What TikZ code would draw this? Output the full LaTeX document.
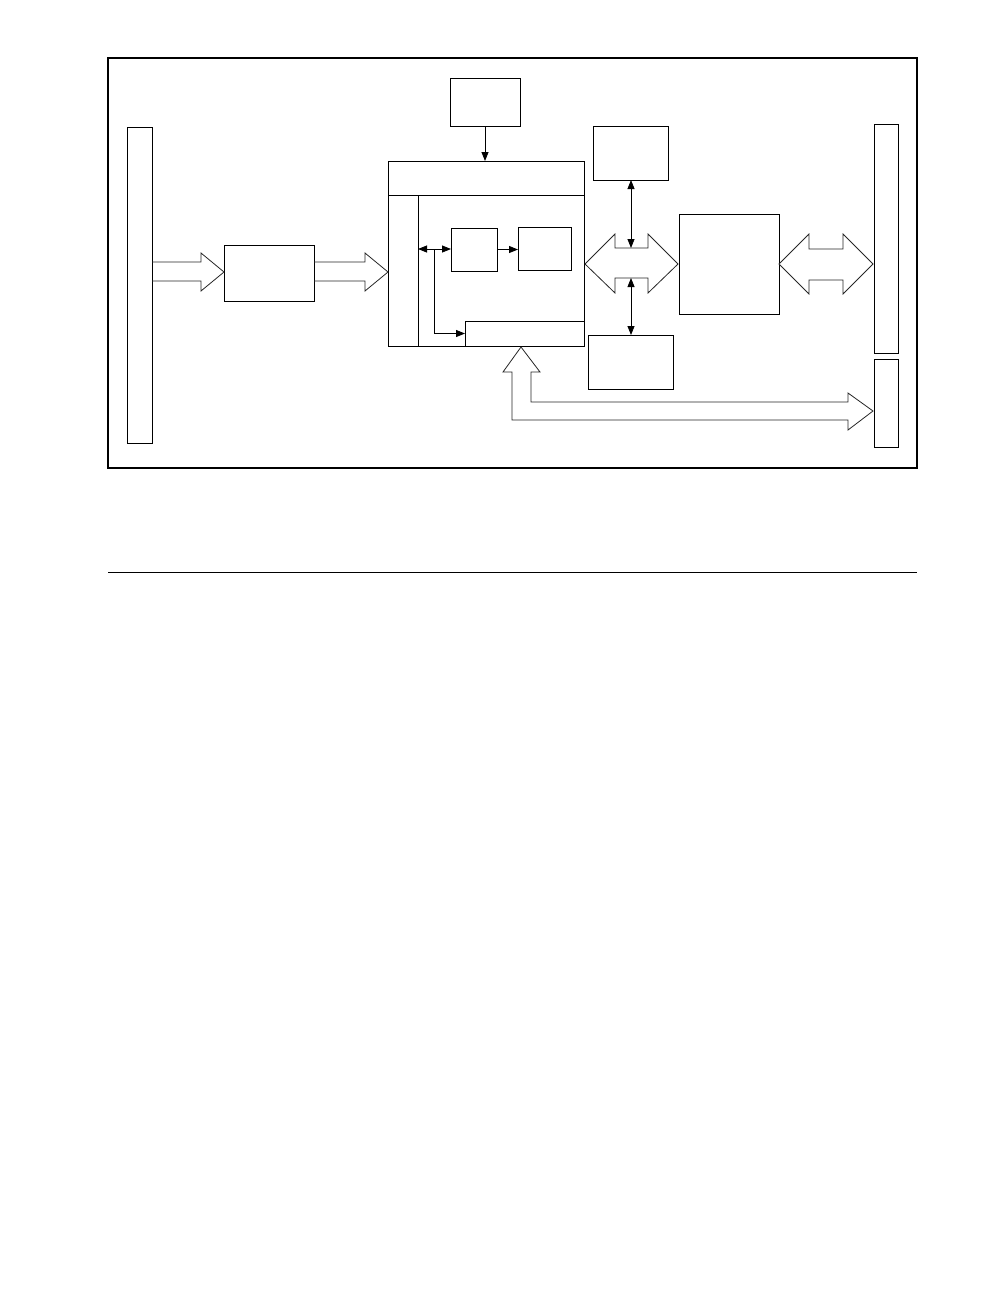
\documentclass[tikz,border=0pt]{standalone}
\usetikzlibrary{arrows.meta}
\begin{document}
\begin{tikzpicture}[x=1pt,y=-1pt,
  box/.style={draw, line width=0.9pt, inner sep=0pt, outer sep=0pt, anchor=north west},
  blk/.style={draw=black!85, line width=0.8pt, line join=miter},
  arr/.style={-{Triangle[length=9pt,width=7pt]}, line width=0.8pt},
  darr/.style={{Triangle[length=9pt,width=7pt]}-{Triangle[length=9pt,width=7pt]}, line width=0.8pt}]
\useasboundingbox (0,0) rectangle (1008,1296);
% frame
\node[box, line width=1.2pt, minimum width=809pt, minimum height=410pt] (frame) at (108,58) {};
% boxes
\node[box, minimum width=25pt, minimum height=316pt] (leftbar) at (127,127) {};
\node[box, minimum width=90pt, minimum height=56pt] (boxA) at (224,245) {};
\node[box, minimum width=70pt, minimum height=48pt] (topbox) at (450,78) {};
\node[box, minimum width=196pt, minimum height=185pt] (cont) at (388,161) {};
\node[box, minimum width=196pt, minimum height=34pt] (hdr) at (388,161) {};
\node[box, minimum width=30pt, minimum height=151pt] (side) at (388,195) {};
\node[box, minimum width=46pt, minimum height=43pt] (in1) at (451,228) {};
\node[box, minimum width=53pt, minimum height=43pt] (in2) at (518,227) {};
\node[box, minimum width=119pt, minimum height=25pt] (strip) at (465,321) {};
\node[box, minimum width=75pt, minimum height=54pt] (ubox) at (593,126) {};
\node[box, minimum width=85pt, minimum height=54pt] (lbox) at (588,335) {};
\node[box, minimum width=100pt, minimum height=100pt] (big) at (679,214) {};
\node[box, minimum width=24pt, minimum height=229pt] (rbar1) at (874,124) {};
\node[box, minimum width=24pt, minimum height=88pt] (rbar2) at (874,359) {};
% block arrows
\draw[blk] (152,262) -- (201,262) -- (201,253) -- (224,272) -- (201,291) -- (201,281) -- (152,281);
\draw[blk] (314,262) -- (365,262) -- (365,253) -- (388,272) -- (365,291) -- (365,281) -- (314,281);
\draw[blk] (585,264) -- (615,234) -- (615,248) -- (648,248) -- (648,234) -- (678,264) -- (648,293) -- (648,278) -- (615,278) -- (615,293) -- cycle;
\draw[blk] (779,264) -- (809,234) -- (809,249) -- (843,249) -- (843,234) -- (873,264) -- (843,294) -- (843,280) -- (809,280) -- (809,294) -- cycle;
\draw[blk] (521,347) -- (540,372) -- (531,372) -- (531,402) -- (848,402) -- (848,393) -- (873,411) -- (848,430) -- (848,420) -- (512,420) -- (512,372) -- (503,372) -- cycle;
% line arrows
\coordinate (n1) at (631,248);
\coordinate (n2) at (631,278);
\coordinate (j) at (434,249);
\draw[arr] (topbox.south) -- (topbox.south |- cont.north);
\draw[arr] (in1.east) -- (in1.east -| in2.west);
\draw[arr] (j) -- (j -| in1.west);
\draw[arr] (j) -- (j -| side.east);
\draw[arr] (j) |- (strip.west);
\draw[darr] (ubox.south -| n1) -- (n1);
\draw[darr] (n2) -- (lbox.north -| n2);
% rule below
\coordinate (r1) at (108,572);
\coordinate (r2) at (917,572);
\draw[line width=1pt] (r1) -- (r2);
\end{tikzpicture}
\end{document}
